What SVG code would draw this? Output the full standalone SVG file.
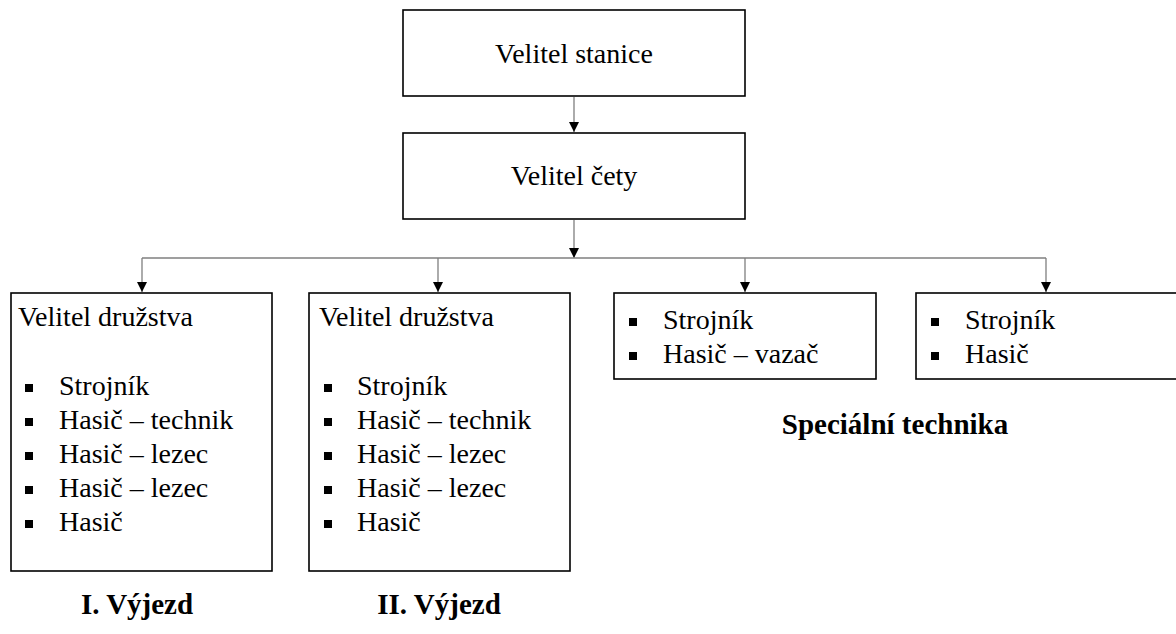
<svg xmlns="http://www.w3.org/2000/svg" width="1176" height="634" viewBox="0 0 1176 634">
<defs>
<marker id="arr" viewBox="0 0 10 10" refX="10" refY="5" markerWidth="10" markerHeight="10" markerUnits="userSpaceOnUse" orient="auto">
<path d="M0,0 L10,5 L0,10 Z" fill="#000"/>
</marker>
</defs>
<style>
.box{fill:#fff;stroke:#000;stroke-width:1.6}
.t{font-size:28px;fill:#000}
.b{font-size:29px;font-weight:bold;fill:#000}
.c{text-anchor:middle}
.bul{fill:#000}
.ln{stroke:#7f7f7f;stroke-width:1.3;fill:none}
.la{stroke:#7f7f7f;stroke-width:1.3;fill:none;marker-end:url(#arr)}
</style>
<rect width="1176" height="634" fill="#fff"/>
<g id="connectors">
<line class="la" x1="574" y1="97" x2="574" y2="132"/>
<line class="la" x1="574" y1="220" x2="574" y2="258"/>
<line class="ln" x1="142" y1="258" x2="1046" y2="258"/>
<line class="la" x1="142" y1="258" x2="142" y2="292"/>
<line class="la" x1="438" y1="258" x2="438" y2="292"/>
<line class="la" x1="745" y1="258" x2="745" y2="292"/>
<line class="la" x1="1046" y1="258" x2="1046" y2="292"/>
</g>
<g font-family="'Liberation Serif', 'Times New Roman', 'DejaVu Serif', serif">
<g id="velitel-stanice">
<rect class="box" x="403" y="10" width="342" height="86"/>
<text class="t c" x="574" y="63">Velitel stanice</text>
</g>
<g id="velitel-cety">
<rect class="box" x="403" y="133" width="342" height="86"/>
<text class="t c" x="574" y="185">Velitel čety</text>
</g>
<g id="druzstvo-1">
<rect class="box" x="11" y="293" width="261" height="278"/>
<text class="t" x="18" y="326">Velitel družstva</text>
<rect class="bul" x="25" y="384" width="8" height="8"/>
<rect class="bul" x="25" y="418" width="8" height="8"/>
<rect class="bul" x="25" y="452" width="8" height="8"/>
<rect class="bul" x="25" y="486" width="8" height="8"/>
<rect class="bul" x="25" y="520" width="8" height="8"/>
<text class="t" x="59" y="395">Strojník</text>
<text class="t" x="59" y="429">Hasič – technik</text>
<text class="t" x="59" y="463">Hasič – lezec</text>
<text class="t" x="59" y="497">Hasič – lezec</text>
<text class="t" x="59" y="531">Hasič</text>
</g>
<g id="druzstvo-2">
<rect class="box" x="309" y="293" width="261" height="278"/>
<text class="t" x="319" y="326">Velitel družstva</text>
<rect class="bul" x="324" y="384" width="8" height="8"/>
<rect class="bul" x="324" y="418" width="8" height="8"/>
<rect class="bul" x="324" y="452" width="8" height="8"/>
<rect class="bul" x="324" y="486" width="8" height="8"/>
<rect class="bul" x="324" y="520" width="8" height="8"/>
<text class="t" x="357" y="395">Strojník</text>
<text class="t" x="357" y="429">Hasič – technik</text>
<text class="t" x="357" y="463">Hasič – lezec</text>
<text class="t" x="357" y="497">Hasič – lezec</text>
<text class="t" x="357" y="531">Hasič</text>
</g>
<g id="specialni-1">
<rect class="box" x="614" y="293" width="262" height="86"/>
<rect class="bul" x="629" y="318" width="8" height="8"/>
<rect class="bul" x="629" y="352" width="8" height="8"/>
<text class="t" x="663" y="329">Strojník</text>
<text class="t" x="663" y="363">Hasič – vazač</text>
</g>
<g id="specialni-2">
<rect class="box" x="916" y="293" width="262" height="86"/>
<rect class="bul" x="931" y="318" width="8" height="8"/>
<rect class="bul" x="931" y="352" width="8" height="8"/>
<text class="t" x="965" y="329">Strojník</text>
<text class="t" x="965" y="363">Hasič</text>
</g>
<g id="labels">
<text class="b c" x="137" y="614">I. Výjezd</text>
<text class="b c" x="439" y="614">II. Výjezd</text>
<text class="b c" x="895" y="434">Speciální technika</text>
</g>
</g>
</svg>
